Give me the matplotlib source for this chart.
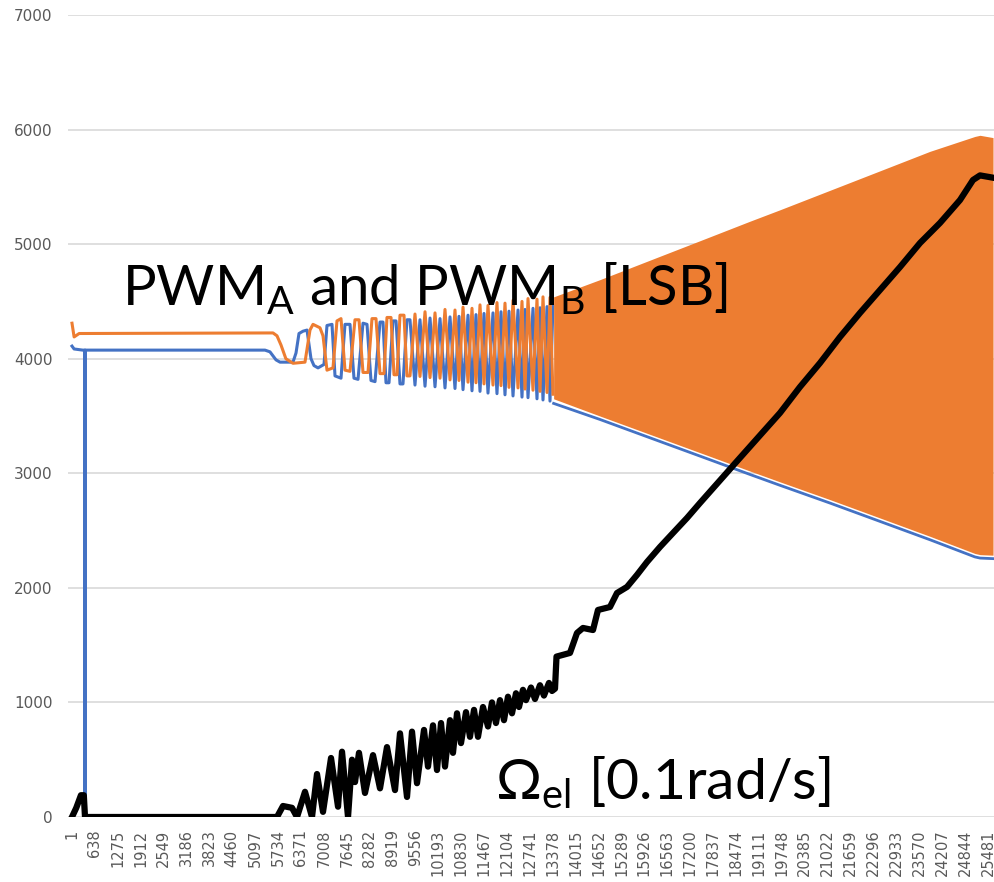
import matplotlib
matplotlib.use("Agg")
import matplotlib.pyplot as plt

# Excel category axis: every 637th sample is labelled
sample_labels = list(range(1, 25482, 637))
y_ticks = [0, 1000, 2000, 3000, 4000, 5000, 6000, 7000]

# PWM_A (blue), slow part before the switching gets too dense to resolve
pwm_a_x = [1, 60, 300, 355, 363, 371, 5370, 5509, 5676, 5788, 6149, 6233, 6316, 6427,
           6539, 6650, 6733, 6845, 7012, 7095, 7234, 7318, 7485, 7596, 7735, 7846,
           7958, 8097, 8208, 8319, 8431, 8570, 8653, 8737, 8820, 8931, 9015, 9126,
           9209, 9320, 9404,
           9543, 9682, 9822, 9961, 10100, 10239, 10378, 10517, 10656, 10767, 10879,
           11018, 11129, 11240, 11352, 11463, 11574, 11713, 11824, 11936, 12047,
           12158, 12270, 12409, 12520, 12604, 12687, 12826, 12937, 13021, 13104,
           13216, 13299, 13382]
pwm_a_y = [4110, 4085, 4075, 4075, 0, 4075, 4075, 4060, 3990, 3970, 3970, 4050, 4220, 4240,
           4250, 4000, 3940, 3920, 3950, 4290, 4300, 3850, 3830, 4300, 4300, 3830,
           3820, 4310, 4300, 3810, 3800, 4320, 4320, 3790, 3790, 4330, 4330, 3780,
           3780, 4340, 4340,
           3770, 4340, 3760, 4355, 3755, 4350, 3745, 4365, 3740, 4370, 3730,
           4380, 3720, 4385, 3715, 4395, 3700, 4400, 3695, 4410, 3685,
           4415, 3675, 4425, 3665, 4430, 3660, 4440, 3650, 4445, 3640,
           4455, 3630, 4460]

# PWM_B (orange)
pwm_b_x = [1, 60, 200, 5593, 5704, 5815, 5951, 6149, 6483, 6622, 6706, 6900, 6984, 7095,
           7262, 7373, 7485, 7596, 7735, 7874, 7985, 8097, 8236, 8347, 8458, 8570,
           8681, 8764, 8876, 8959, 9043, 9126, 9237, 9320, 9404,
           9543, 9682, 9822, 9961, 10100, 10239, 10378, 10517, 10656, 10767, 10879,
           11018, 11129, 11240, 11352, 11463, 11574, 11713, 11824, 11936, 12047,
           12158, 12270, 12409, 12520, 12604, 12687, 12826, 12937, 13021, 13104,
           13216, 13299, 13382]
pwm_b_y = [4310, 4190, 4220, 4225, 4200, 4120, 4000, 3960, 3970, 4250, 4300, 4270, 4200, 3900,
           3920, 4330, 4350, 3900, 3890, 4340, 4340, 3880, 3880, 4350, 4350, 3870,
           3870, 4360, 4360, 3860, 3860, 4380, 4380, 3850, 3850,
           4390, 3845, 4410, 3835, 4400, 3830, 4430, 3815, 4425, 3810, 4450,
           3795, 4440, 3790, 4470, 3780, 4465, 3770, 4490, 3765, 4485,
           3750, 4510, 3745, 4500, 3735, 4525, 3725, 4520, 3715, 4540,
           3705, 4535, 3690]

# dense switching region: envelope of the two PWM signals
dense_x = [13400, 14687, 16078, 17472, 18860, 19698, 21089, 22480, 23869, 25120, 25262, 25624]
pwm_b_hi = [4540, 4690, 4860, 5030, 5200, 5300, 5470, 5640, 5810, 5940, 5950, 5930]
pwm_b_lo = [3650, 3500, 3340, 3180, 3020, 2925, 2770, 2610, 2450, 2300, 2290, 2285]
pwm_a_lo = [3610, 3470, 3310, 3150, 2990, 2895, 2740, 2580, 2420, 2270, 2260, 2255]

# Omega_el (black)
omega_x = [1, 120, 250, 330, 363, 5704, 5871, 6122, 6261, 6483, 6678, 6817, 6984, 7207,
           7402, 7513, 7680, 7791, 7874, 7985, 8152, 8375, 8570, 8764, 8987, 9126,
           9321, 9460, 9599, 9794, 9905, 10044, 10155, 10267, 10378, 10517, 10600,
           10712, 10823, 10962, 11073, 11185, 11296, 11435, 11574, 11685, 11796,
           11908, 12019, 12130, 12242, 12353, 12436, 12547, 12631, 12770, 12881,
           13020, 13131, 13270, 13355, 13438, 13480, 13855, 14050, 14217, 14495,
           14634, 14968, 15163, 15441, 15719, 15998, 16359, 16721, 17111, 17472,
           18443, 19138, 19698, 20254, 20811, 21367, 21924, 22480, 23036, 23593,
           24149, 24705, 25067, 25262, 25624]
omega_y = [0, 80, 190, 190, 0, 0, 96, 80, 0, 220, 0, 375, 45, 515,
           90, 570, 0, 500, 305, 560, 210, 540, 250, 610, 235, 730,
           175, 745, 295, 760, 440, 800, 410, 820, 440, 845, 560,
           905, 645, 915, 700, 935, 700, 960, 790, 1000, 820,
           1020, 845, 1050, 905, 1080, 960, 1110, 1020, 1130, 1030,
           1150, 1060, 1170, 1100, 1120, 1400, 1432, 1606, 1650, 1632,
           1807, 1833, 1955, 2008, 2113, 2226, 2357, 2479, 2610, 2741,
           3085, 3330, 3527, 3754, 3963, 4190, 4400, 4600, 4800, 5010,
           5185, 5385, 5560, 5600, 5580]

BLUE = '#4472C4'
ORANGE = '#ED7D31'
GREY = '#595959'

fig = plt.figure(figsize=(9.94, 8.82), dpi=100)
ax = fig.add_axes([68 / 994, 65 / 882, 926 / 994, 802 / 882])

ax.plot(pwm_a_x, pwm_a_y, color=BLUE, lw=2.2, zorder=2)
ax.plot(dense_x, pwm_a_lo, color=BLUE, lw=2, zorder=2)
ax.plot(pwm_b_x, pwm_b_y, color=ORANGE, lw=2.2, zorder=3)
ax.fill_between(dense_x, pwm_b_lo, pwm_b_hi, color=ORANGE, lw=0, zorder=3)
ax.plot(omega_x, omega_y, color='black', lw=4.5, zorder=4, solid_joinstyle='round')

ax.set_xlim(-110, 25651)
ax.set_ylim(0, 7000)
ax.set_yticks(y_ticks)
ax.set_xticks(sample_labels)
ax.set_xticklabels([str(v) for v in sample_labels], rotation=90)
ax.yaxis.grid(True, color='#d9d9d9', lw=1.2)
ax.set_axisbelow(True)
for s in ax.spines.values():
    s.set_visible(False)
ax.tick_params(axis='y', length=0, labelsize=11, labelcolor=GREY, pad=11)
ax.tick_params(axis='x', length=0, labelsize=10.5, labelcolor=GREY, pad=9)

ax.text(1392, 4469, r'PWM$_\mathregular{A}$ and PWM$_\mathregular{B}$ [LSB]',
        fontsize=40.5, family='Lato', ha='left', va='baseline', zorder=5)
ax.text(11770, 148, r'Ω$_\mathregular{el}$ [0.1rad/s]',
        fontsize=41, family='Lato', ha='left', va='baseline', zorder=5)

fig.savefig('out.png', dpi=100)
